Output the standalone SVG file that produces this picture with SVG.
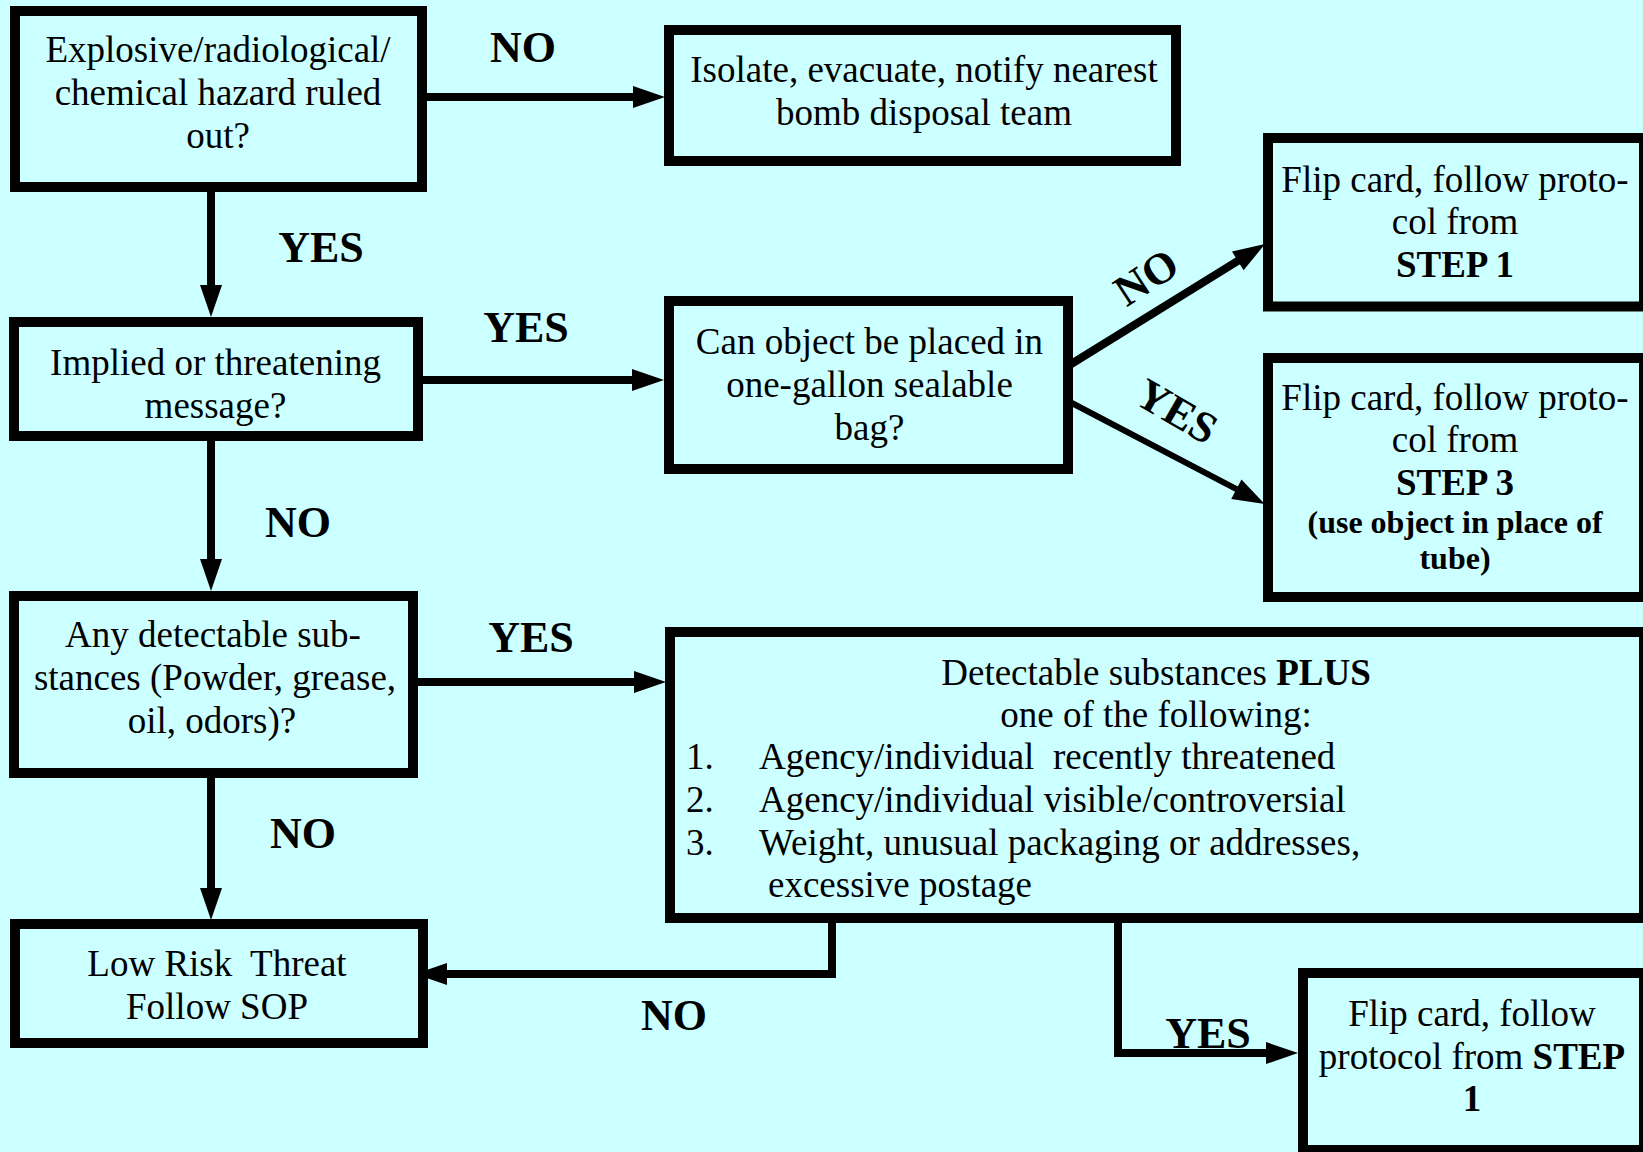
<svg xmlns="http://www.w3.org/2000/svg" width="1643" height="1152" viewBox="0 0 1643 1152">
<style>
.box{fill:#CCFFFF;stroke:#000;stroke-width:10}
.t{font-family:"Liberation Serif","Times New Roman",serif;font-size:37px;fill:#000;text-anchor:middle;white-space:pre}
.l{text-anchor:start}
.b{font-weight:bold}
.sm{font-size:32px;font-weight:bold}
.lbl{font-family:"Liberation Serif","Times New Roman",serif;font-size:44px;font-weight:bold;fill:#000;text-anchor:middle}
.c{stroke:#000;stroke-width:8;fill:none}
</style>
<defs>
<marker id="ah" markerUnits="userSpaceOnUse" markerWidth="32" markerHeight="22" viewBox="0 0 32 22" refX="12" refY="11" orient="auto" overflow="visible">
<path d="M0,0 L32,11 L0,22 z" fill="#000"/>
</marker>
</defs>
<rect x="0" y="0" width="1643" height="1152" fill="#CCFFFF"/>

<g id="connectors">
<line class="c" x1="422" y1="97" x2="645" y2="97" marker-end="url(#ah)"/>
<line class="c" x1="211" y1="187" x2="211" y2="297" marker-end="url(#ah)"/>
<line class="c" x1="418" y1="380" x2="644" y2="380" marker-end="url(#ah)"/>
<line class="c" x1="1068" y1="366" x2="1248" y2="254.6" marker-end="url(#ah)"/>
<line class="c" style="stroke-width:6" x1="1068" y1="401" x2="1247" y2="494.7" marker-end="url(#ah)"/>
<line class="c" x1="211" y1="436" x2="211" y2="571" marker-end="url(#ah)"/>
<line class="c" x1="413" y1="682" x2="646" y2="682" marker-end="url(#ah)"/>
<line class="c" x1="211" y1="773" x2="211" y2="900" marker-end="url(#ah)"/>
<polyline class="c" points="832,917 832,974 435,974" marker-end="url(#ah)"/>
<polyline class="c" points="1118,917 1118,1053 1278,1053" marker-end="url(#ah)"/>
</g>

<g id="labels">
<text class="lbl" x="523" y="62">NO</text>
<text class="lbl" x="321" y="262">YES</text>
<text class="lbl" x="526" y="342">YES</text>
<text class="lbl" x="298" y="537">NO</text>
<text class="lbl" x="531" y="652">YES</text>
<text class="lbl" x="303" y="848">NO</text>
<text class="lbl" x="674" y="1030">NO</text>
<text class="lbl" x="1208" y="1048">YES</text>
<g transform="translate(1146,277) rotate(-33)"><text class="lbl" x="0" y="15">NO</text></g>
<g transform="translate(1177,411) rotate(30)"><text class="lbl" x="0" y="15">YES</text></g>
</g>

<g id="n1">
<rect class="box" x="15" y="11" width="407" height="176"/>
<text class="t" x="218" y="62">Explosive/radiological/</text>
<text class="t" x="218" y="105">chemical hazard ruled</text>
<text class="t" x="218" y="148">out?</text>
</g>

<g id="n2">
<rect class="box" x="669" y="30" width="507" height="131"/>
<text class="t" x="924" y="82">Isolate, evacuate, notify nearest</text>
<text class="t" x="924" y="125">bomb disposal team</text>
</g>

<g id="n3">
<rect class="box" x="14" y="322" width="404" height="114"/>
<text class="t" x="215.5" y="375">Implied or threatening</text>
<text class="t" x="215.5" y="418">message?</text>
</g>

<g id="n4">
<rect class="box" x="669" y="301" width="399" height="168"/>
<text class="t" x="869.5" y="354">Can object be placed in</text>
<text class="t" x="869.5" y="397">one-gallon sealable</text>
<text class="t" x="869.5" y="440">bag?</text>
</g>

<g id="n5">
<rect class="box" x="1268" y="138" width="376" height="168.5"/>
<text class="t" x="1455" y="192">Flip card, follow proto-</text>
<text class="t" x="1455" y="234">col from</text>
<text class="t b" x="1455" y="277">STEP 1</text>
</g>

<g id="n6">
<rect class="box" x="1268" y="358" width="376" height="239"/>
<text class="t" x="1455" y="410">Flip card, follow proto-</text>
<text class="t" x="1455" y="452">col from</text>
<text class="t b" x="1455" y="495">STEP 3</text>
<text class="t sm" x="1455" y="533">(use object in place of</text>
<text class="t sm" x="1455" y="569">tube)</text>
</g>

<g id="n7">
<rect class="box" x="14" y="596" width="399" height="177"/>
<text class="t" x="213" y="647">Any detectable sub-</text>
<text class="t" x="215" y="690">stances (Powder, grease,</text>
<text class="t" x="212" y="733">oil, odors)?</text>
</g>

<g id="n8">
<rect class="box" x="670" y="632" width="974" height="286"/>
<text class="t" x="1156" y="685">Detectable substances <tspan class="b">PLUS</tspan></text>
<text class="t" x="1156" y="727">one of the following:</text>
<text class="t l" x="686" y="769">1.</text>
<text class="t l" x="759" y="769">Agency/individual  recently threatened</text>
<text class="t l" x="686" y="812">2.</text>
<text class="t l" x="759" y="812">Agency/individual visible/controversial</text>
<text class="t l" x="686" y="855">3.</text>
<text class="t l" x="759" y="855">Weight, unusual packaging or addresses,</text>
<text class="t l" x="768" y="897">excessive postage</text>
</g>

<g id="n9">
<rect class="box" x="15" y="924" width="408" height="119"/>
<text class="t" x="217" y="976">Low Risk  Threat</text>
<text class="t" x="217" y="1019">Follow SOP</text>
</g>

<g id="n10">
<rect class="box" x="1303" y="973" width="341" height="177"/>
<text class="t" x="1472" y="1026">Flip card, follow</text>
<text class="t" x="1472" y="1069">protocol from <tspan class="b">STEP</tspan></text>
<text class="t b" x="1472" y="1111">1</text>
</g>
</svg>
